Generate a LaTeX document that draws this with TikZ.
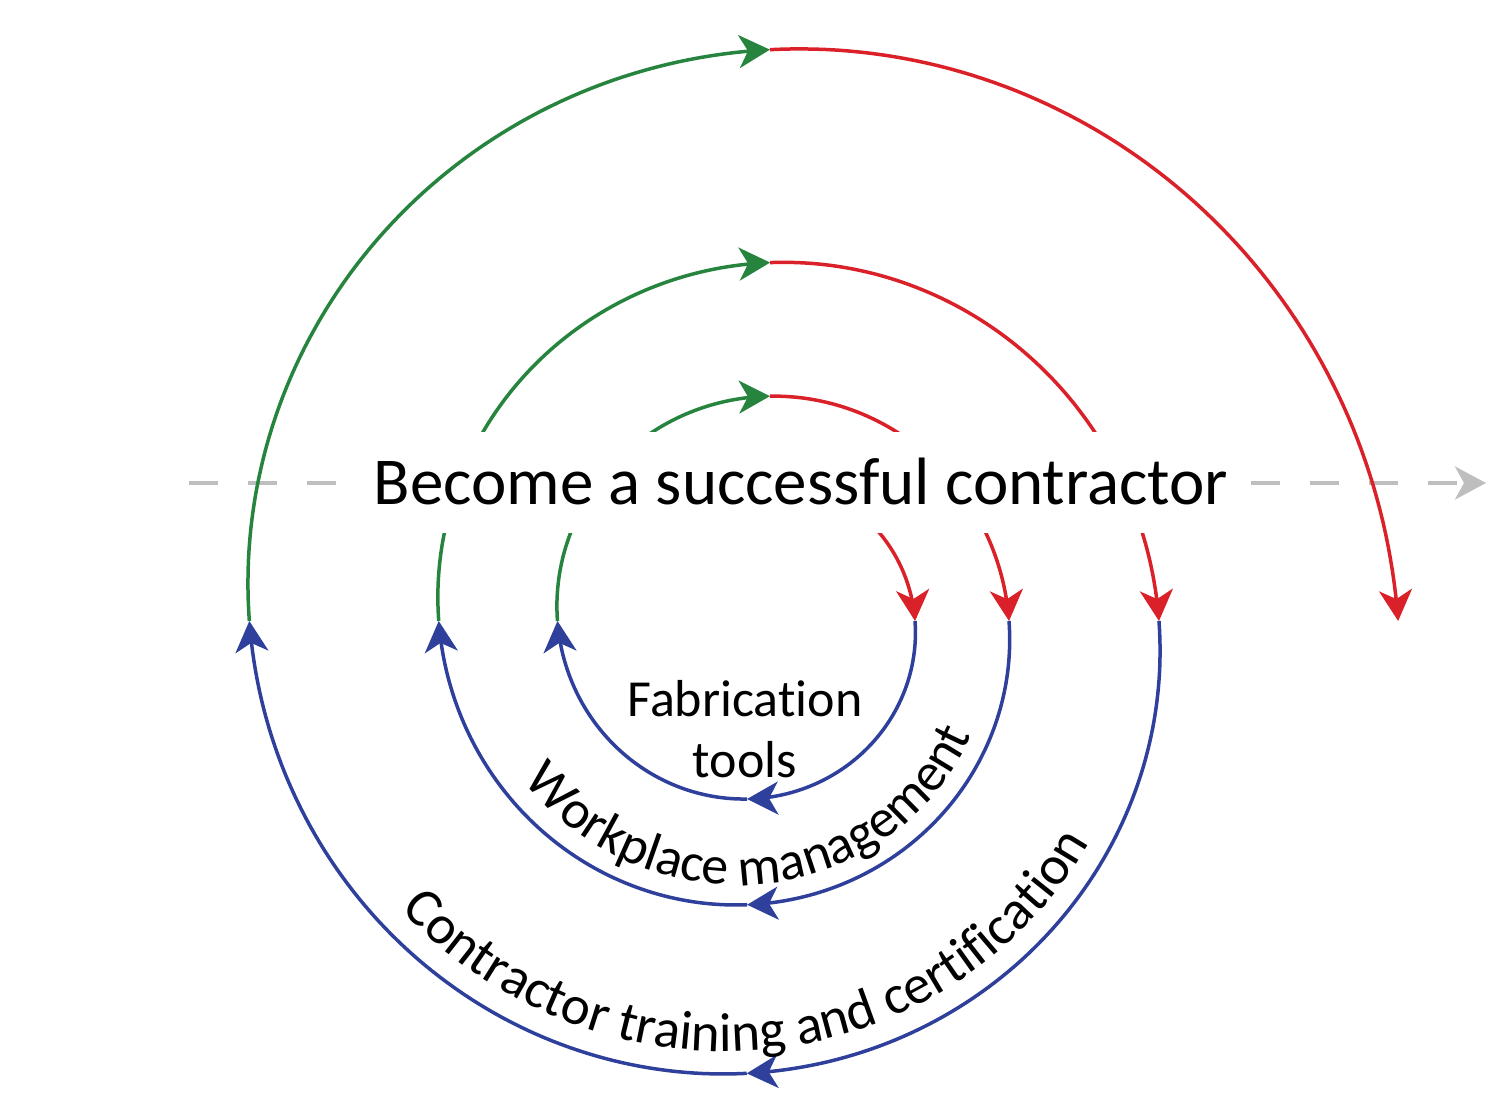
\documentclass[tikz,border=0pt]{standalone}
\usepackage{fontspec}
\setmainfont{Carlito}[Ligatures={NoCommon}]
\usetikzlibrary{arrows.meta,decorations.text}
\definecolor{spgreen}{RGB}{38,132,62}
\definecolor{spred}{RGB}{218,32,40}
\definecolor{spblue}{RGB}{46,64,155}
\definecolor{spgray}{RGB}{190,190,190}
\tikzset{
  tipstyle/.style={-{Stealth[length=31pt,width=33pt,inset=9pt]}},
  seg/.style={line width=3.5pt, tipstyle},
  gseg/.style={seg, draw=spgreen},
  rseg/.style={seg, draw=spred},
  bseg/.style={seg, draw=spblue},
  guide/.style={line width=4pt, draw=spgray, dash pattern=on 29pt off 30pt, tipstyle},
  mainlabel/.style={anchor=base, font=\fontsize{67}{72}\selectfont},
  sublabel/.style={anchor=base, font=\fontsize{52}{60}\selectfont},
}
\begin{document}
\begin{tikzpicture}[x=1pt,y=1pt,
  declare function={sr(\t)=158*exp(0.00130155*\t);
                    spx(\t)=757+sr(\t)*cos(\t);
                    spy(\t)=487-sr(\t)*sin(\t);}]
\useasboundingbox (0,0) rectangle (1500,1108);

% dashed guide line
\coordinate (dashL) at (189,625);
\coordinate (dashR) at (1486,625);
\draw[guide] (dashL) -- (dashR);

% spiral segments
\draw[rseg] plot[domain=-90:0, samples=80] ({spx(\x)},{spy(\x)});
\draw[bseg] plot[domain=0:93.2, samples=80] ({spx(\x)},{spy(\x)});
\draw[bseg] plot[domain=93.2:180, samples=80] ({spx(\x)},{spy(\x)});
\draw[gseg] plot[domain=180:273.3, samples=80] ({spx(\x)},{spy(\x)});
\draw[rseg] plot[domain=273.3:360, samples=80] ({spx(\x)},{spy(\x)});
\draw[bseg] plot[domain=360:452, samples=80] ({spx(\x)},{spy(\x)});
\draw[bseg] plot[domain=452:540, samples=80] ({spx(\x)},{spy(\x)});
\draw[gseg] plot[domain=540:632.1, samples=80] ({spx(\x)},{spy(\x)});
\draw[rseg] plot[domain=632.1:720, samples=80] ({spx(\x)},{spy(\x)});
\draw[bseg] plot[domain=720:811.3, samples=80] ({spx(\x)},{spy(\x)});
\draw[bseg] plot[domain=811.3:900, samples=80] ({spx(\x)},{spy(\x)});
\draw[gseg] plot[domain=900:991.3, samples=80] ({spx(\x)},{spy(\x)});
\draw[rseg] plot[domain=991.3:1080, samples=80] ({spx(\x)},{spy(\x)});

% white mask behind the title
\node[fill=white, inner sep=0pt, minimum width=905pt, minimum height=101pt] (mask) at (792.5,625.5) {};
\node[mainlabel] (title) at (801,603) {Become a successful contractor};

% inner labels
\node[sublabel] (fab1) at (745,391) {Fabrication};
\node[sublabel] (fab2) at (745,330) {tools};

% curved labels
\path[decorate, decoration={text along path, text align=center,
  text={|\fontsize{54}{60}\selectfont|Workplace management}}]
  plot[domain=532:356, samples=150] ({757+0.93*sr(\x)*cos(\x)},{487-0.93*sr(\x)*sin(\x)});
\path[decorate, decoration={text along path, text align=center,
  text={|\fontsize{55}{60}\selectfont|Contractor training and certification}}]
  plot[domain=894:714, samples=150] ({757+0.95*sr(\x)*cos(\x)},{487-0.95*sr(\x)*sin(\x)});
\end{tikzpicture}
\end{document}
